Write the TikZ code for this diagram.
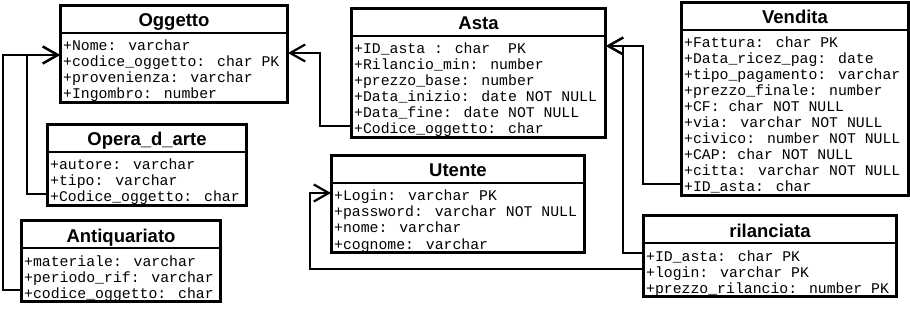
\documentclass[tikz,border=0pt]{standalone}
\usepackage{fontspec}
\setmainfont{Liberation Sans}
\newfontfamily\attfont{Liberation Mono}
\usetikzlibrary{arrows.meta, calc}
\tikzset{
  cls/.style = {draw=black, fill=white, line width=2pt, inner sep=0pt,
    anchor=north west},
  sepline/.style = {draw=black, line width=2pt},
  ttl/.style = {font=\fontsize{18.5}{20}\selectfont\bfseries, anchor=base},
  att/.style = {font=\attfont\fontsize{14.8}{16}\selectfont, anchor=base west,
    inner xsep=3pt, inner ysep=0pt, text height=16pt, text depth=0pt},
  fk/.style = {line width=2pt,
    -{Straight Barb[length=15pt, width=17pt, line width=2.2pt]}}
}
% id, top left corner, width, number of rows, title, rows
\newcommand{\classbox}[6]{%
  \node [cls, minimum width=#3pt, minimum height={(32+16*#4)*1pt}] (#1) at (#2) {};
  \foreach \r [count=\i] in {#6}
    \node [att] (#1-\i) at ([yshift={-(30+16*\i)*1pt}]#1.north west) {\r};
  \draw [sepline] ([yshift=-28pt]#1.north west) -- ([yshift=-28pt]#1.north east);
  \draw [sepline] (#1.north west) rectangle (#1.south east);
  \node [ttl] (#1-t) at ([yshift=-22pt]#1.north) {#5};
}

\begin{document}
\begin{tikzpicture}[x=1pt, y=-1pt]
  \fill [white] (0,0) rectangle (910,323);
  \useasboundingbox (0,0) rectangle (910,323);

  \classbox{ogg}{60,5}{226}{4}{Oggetto}{+Nome: varchar,
    +codice\_oggetto: char PK, +provenienza: varchar, +Ingombro: number}
  \classbox{opr}{47,124}{198}{3}{Opera\_d\_arte}{+autore: varchar,
    +tipo: varchar, +Codice\_oggetto: char}
  \classbox{ant}{21,220}{198}{3}{Antiquariato}{+materiale: varchar,
    +periodo\_rif: varchar, +codice\_oggetto: char}
  \classbox{ast}{351,8}{253}{6}{Asta}{+ID\_asta : char\ \ PK,
    +Rilancio\_min: number, +prezzo\_base: number,
    +Data\_inizio: date NOT NULL, +Data\_fine: date NOT NULL,
    +Codice\_oggetto: char}
  \classbox{ute}{331,155}{252}{4}{Utente}{+Login: varchar PK,
    +password: varchar NOT NULL, +nome: varchar, +cognome: varchar}
  \classbox{ven}{681,2}{226}{10}{Vendita}{+Fattura: char PK,
    +Data\_ricez\_pag: date, +tipo\_pagamento: varchar,
    +prezzo\_finale: number, +CF: char NOT NULL, +via: varchar NOT NULL,
    +civico: number NOT NULL, +CAP: char NOT NULL,
    +citta: varchar NOT NULL, +ID\_asta: char}
  \classbox{ril}{643,215}{252}{3}{rilanciata}{+ID\_asta: char PK,
    +login: varchar PK, +prezzo\_rilancio: number PK}

  % arrow ends on Oggetto
  \coordinate (ogg-in) at ($(ogg.north west)+(0,50)$);
  \coordinate (ogg-out) at ($(ogg.north east)+(0,48)$);

  % foreign keys
  \draw [fk] (opr-3.west) -- ++(-20,0) |- (ogg-in);
  \draw [fk] (ant-3.west) -- ++(-18,0) |- (ogg-in);
  \draw [fk] (ast-6.west) -- ++(-31,0) |- (ogg-out);
  \draw [fk] (ven-10.west) -- ++(-38,0) |- (ast.east |- ast-1);
  \draw [fk] (ril-1.west) -- ++(-20,0) |- (ast.east |- ast-1);
  \draw [fk] (ril-2.west) -- ++(-333,0) |- (ute.west |- ute-1);
\end{tikzpicture}
\end{document}
